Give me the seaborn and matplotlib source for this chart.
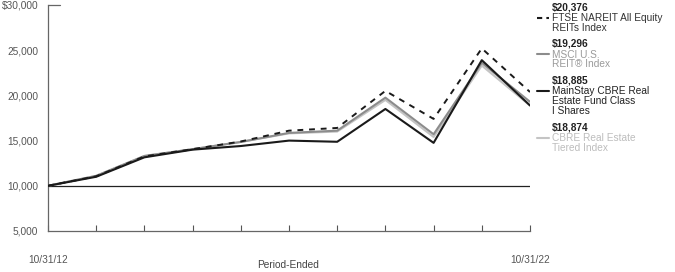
import matplotlib
matplotlib.use("Agg")
import matplotlib.pyplot as plt
import seaborn as sns
import pandas as pd
from matplotlib.lines import Line2D

sns.set_theme(style="white")
plt.rcParams['font.family'] = ['Liberation Sans', 'DejaVu Sans']

years = list(range(2012, 2023))
mainstay = [10000, 11000, 13150, 14000, 14400, 15000, 14870, 18500, 14750, 23900, 18885]
msci = [10000, 11100, 13300, 14050, 14850, 15850, 16100, 19750, 15700, 23600, 19296]
ftse = [10000, 11050, 13250, 14050, 14900, 16100, 16400, 20500, 17400, 25200, 20376]
cbre = [10000, 11100, 13300, 14050, 14850, 15800, 16000, 19500, 15400, 23300, 18874]

x_labels = ["10/31/12", "10/31/22"]
y_ticks = [5000, 10000, 15000, 20000, 25000, 30000]
y_labels = ["5,000", "10,000", "15,000", "20,000", "25,000", "$30,000"]

legend_values = ["$20,376", "$19,296", "$18,885", "$18,874"]
legend_names = [["FTSE NAREIT All Equity", "REITs Index"],
                ["MSCI U.S.", "REIT\u00ae Index"],
                ["MainStay CBRE Real", "Estate Fund Class", "I Shares"],
                ["CBRE Real Estate", "Tiered Index"]]

fig = plt.figure(figsize=(6.75, 2.72), dpi=100)
ax = fig.add_axes([48/675, 1-231/272, (530-48)/675, (231-5)/272])

c_main = "#1a1a1a"
c_msci = "#8c8c8c"
c_cbre = "#c4c4c4"
c_ftse = "#1a1a1a"
fs = 7.3

ax.axhline(10000, color="#222222", lw=0.9, zorder=1)

sns.lineplot(x=years, y=cbre, ax=ax, color=c_cbre, lw=1.5, zorder=2)
sns.lineplot(x=years, y=msci, ax=ax, color=c_msci, lw=1.5, zorder=3)
sns.lineplot(x=years, y=mainstay, ax=ax, color=c_main, lw=1.5, zorder=4)
sns.lineplot(x=years, y=ftse, ax=ax, color=c_ftse, lw=1.4, ls=(0, (3, 3)), zorder=5)

ax.set_xlim(years[0], years[-1])
ax.set_ylim(5000, 30000)
ax.set_yticks(y_ticks)
ax.set_yticklabels(y_labels)
ax.set_xticks(years)
ax.set_xticklabels([x_labels[0]] + [""] * (len(years) - 2) + [x_labels[1]])
ax.tick_params(axis="x", direction="in", length=4, width=0.8, color="#555555",
               pad=17, labelsize=fs, labelcolor="#555555", bottom=True)
ax.tick_params(axis="y", length=0, pad=7, labelsize=fs, labelcolor="#555555", left=False)
ax.set_xlabel("")
ax.set_ylabel("")
fig.text(288/675, 1 - 265/272, "Period-Ended", fontsize=fs, color="#444444",
         ha="center", va="center")

for s in ["top", "right"]:
    ax.spines[s].set_visible(False)
for s in ["left", "bottom"]:
    ax.spines[s].set_color("#666666")
    ax.spines[s].set_linewidth(0.9)

ax.plot([years[0], years[0] + 0.25], [30000, 30000], color="#666666", lw=0.9, clip_on=False)

key_colors = [c_ftse, c_msci, c_main, c_cbre]
key_styles = [(0, (2.5, 2)), "-", "-", "-"]
text_colors = ["#333333", "#9a9a9a", "#222222", "#bdbdbd"]
top_px = [7, 43.5, 80.5, 127]
for val, names, kc, ks, tc, ty in zip(legend_values, legend_names, key_colors,
                                      key_styles, text_colors, top_px):
    fig.text(552/675, 1 - ty/272, val, fontsize=fs, fontweight="bold",
             color="#222222", ha="left", va="center")
    for i, nm in enumerate(names):
        fig.text(552/675, 1 - (ty + 11 + 10 * i)/272, nm, fontsize=fs, color=tc,
                 ha="left", va="center")
    ky = 1 - (ty + 10.5)/272
    fig.add_artist(Line2D([537/675, 549/675], [ky, ky], color=kc, lw=1.5, ls=ks,
                          transform=fig.transFigure))

fig.savefig("out.png", dpi=100)
